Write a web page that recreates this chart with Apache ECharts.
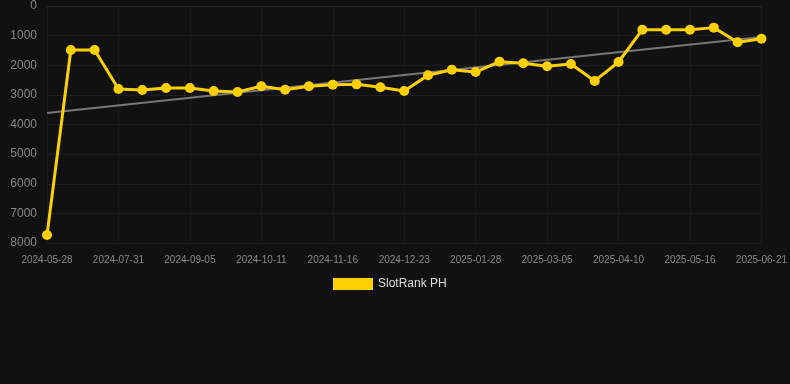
<!DOCTYPE html>
<html>
<head>
<meta charset="utf-8">
<script src="https://cdn.jsdelivr.net/npm/echarts@6/dist/echarts.min.js"></script>
<style>
html,body{margin:0;padding:0;background:#111111;}
#chart{width:790px;height:384px;}
</style>
</head>
<body>
<div id="chart"></div>
<script>
var categories = [
  "2024-05-28","2024-06-19","2024-07-19","2024-07-31","2024-08-12","2024-08-24",
  "2024-09-05","2024-09-17","2024-09-29","2024-10-11","2024-10-23","2024-11-04",
  "2024-11-16","2024-11-28","2024-12-11","2024-12-23","2025-01-04","2025-01-16",
  "2025-01-28","2025-02-09","2025-02-21","2025-03-05","2025-03-17","2025-03-29",
  "2025-04-10","2025-04-22","2025-05-04","2025-05-16","2025-05-28","2025-06-09",
  "2025-06-21"
];
var rankValues = [
  7730,1485,1485,2800,2835,2770,2770,2870,2900,2710,2825,2710,
  2655,2645,2745,2870,2340,2150,2230,1880,1935,2035,1960,2530,
  1890,800,800,800,730,1225,1105
];
var trendEnds = [3610, 1050];
var yTicks = {min: 0, max: 8000, interval: 1000};
var seriesName = "SlotRank PH";

var trendData = categories.map(function(c, i){
  if (i === 0) return trendEnds[0];
  if (i === categories.length - 1) return trendEnds[1];
  return null;
});

var chart = echarts.init(document.getElementById('chart'), null, {renderer: 'canvas'});
chart.setOption({
  backgroundColor: '#111111',
  animation: false,
  textStyle: {fontFamily: 'Liberation Sans, Arial, sans-serif'},
  grid: {left: 47, right: 28, top: 6, bottom: 141, containLabel: false},
  legend: {
    data: [seriesName],
    left: 328, top: 273,
    icon: 'rect', itemWidth: 40, itemHeight: 12, itemGap: 10,
    textStyle: {color: '#dddddd', fontSize: 12}
  },
  xAxis: {
    type: 'category',
    data: categories,
    boundaryGap: false,
    axisLine: {show: true, lineStyle: {color: '#272727', width: 1}},
    axisTick: {show: false},
    axisLabel: {interval: 2, color: '#888888', fontSize: 10, margin: 12},
    splitLine: {show: true, interval: 2, lineStyle: {color: '#1a1a1a', width: 1}}
  },
  yAxis: {
    type: 'value',
    inverse: true,
    min: yTicks.min, max: yTicks.max, interval: yTicks.interval,
    axisLine: {show: false},
    axisTick: {show: false},
    axisLabel: {color: '#888888', fontSize: 12, margin: 10, formatter: function(v){ return String(v); }},
    splitLine: {lineStyle: {color: '#1e1e1e', width: 1}}
  },
  series: [
    {
      name: 'trend',
      type: 'line',
      data: trendData,
      connectNulls: true,
      symbol: 'none',
      silent: true,
      lineStyle: {color: '#777777', width: 2},
      z: 1
    },
    {
      name: seriesName,
      type: 'line',
      data: rankValues,
      symbol: 'circle',
      symbolSize: 10,
      itemStyle: {color: '#FFD000'},
      lineStyle: {color: '#FFD000', width: 3},
      z: 2
    }
  ]
});
</script>
</body>
</html>
